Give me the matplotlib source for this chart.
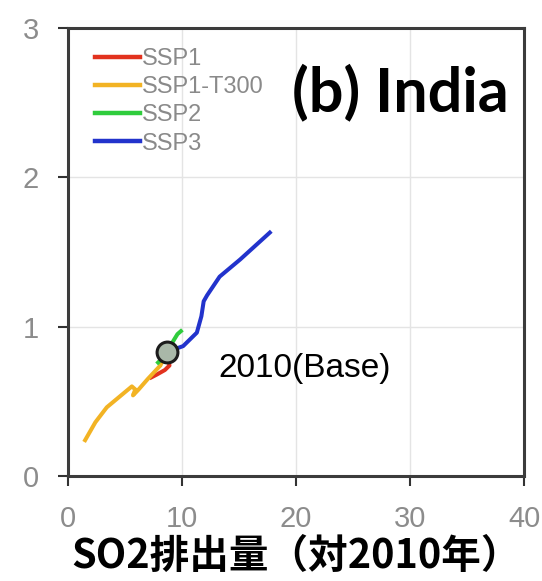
import matplotlib
matplotlib.use("Agg")
import matplotlib.pyplot as plt

# ------------------------------------------------------------------------------
# Trajectories (x: SO2 emission, y: vertical value)
# ------------------------------------------------------------------------------
ssp1_x = [8.66, 8.9, 8.5, 7.8, 7.3]
ssp1_y = [0.83, 0.74, 0.71, 0.68, 0.66]

t300_x = [8.66, 8.1, 7.0, 6.2, 5.7, 5.9, 5.6, 4.5, 3.4, 2.4, 1.5]
t300_y = [0.83, 0.74, 0.65, 0.58, 0.54, 0.58, 0.60, 0.53, 0.46, 0.36, 0.24]

ssp2_x = [7.9, 8.3, 8.66, 9.2, 9.6, 9.9]
ssp2_y = [0.76, 0.79, 0.83, 0.90, 0.95, 0.97]

ssp3_x = [8.66, 10.1, 11.3, 11.7, 11.9, 12.2, 13.3, 15.1, 17.7]
ssp3_y = [0.83, 0.87, 0.96, 1.07, 1.17, 1.21, 1.335, 1.45, 1.63]

base_x = 8.66
base_y = 0.83

x_ticks = [0, 10, 20, 30, 40]
y_ticks = [0, 1, 2, 3]

fig = plt.figure(figsize=(5.42, 5.81), dpi=100)
ax = fig.add_axes([0.1255, 0.1807, 0.8413, 0.7711])

lw = 2.9
ax.plot(ssp1_x, ssp1_y, color="#e2321e", lw=lw, label="SSP1", zorder=3)
ax.plot(t300_x, t300_y, color="#f2b324", lw=lw, label="SSP1-T300", zorder=3)
ax.plot(ssp2_x, ssp2_y, color="#2fcc3c", lw=lw, label="SSP2", zorder=3)
ax.plot(ssp3_x, ssp3_y, color="#2233cc", lw=lw, label="SSP3", zorder=4)

# 2010 base point
ax.plot([base_x], [base_y], marker="o", ms=15, mfc="#a9b8a8", mec="#1c1c1c",
        mew=2.2, zorder=5)
ax.text(13.2, 0.66, "2010(Base)", fontsize=24, family="Liberation Sans",
        ha="left", va="baseline", color="black")

ax.text(0.967, 0.815, "(b) India", transform=ax.transAxes, fontsize=44,
        fontweight="bold", family="Lato", ha="right", va="baseline")

ax.set_xlim(0, 40)
ax.set_ylim(0, 3)
ax.set_xticks(x_ticks)
ax.set_yticks(y_ticks)
ax.tick_params(axis="both", direction="out", length=7, width=1.5,
               colors="#333333", labelcolor="#8c8c8c", labelsize=21, pad=14)
for lab in ax.get_xticklabels() + ax.get_yticklabels():
    lab.set_family("Liberation Sans")
ax.grid(True, color="#e4e4e4", lw=1.0)
ax.set_axisbelow(True)
for sp in ax.spines.values():
    sp.set_linewidth(2.2)
    sp.set_color("#3c3c3c")

ax.set_xlabel("SO2排出量（対2010年）", fontsize=28.5, fontweight="bold",
              family=["Noto Sans CJK JP", "DejaVu Sans"], labelpad=2)

leg = ax.legend(loc="upper left", bbox_to_anchor=(0.059, 0.955), frameon=False,
                borderpad=0, borderaxespad=0, handlelength=1.9,
                handletextpad=0.08, labelspacing=0.26,
                prop={"family": "Liberation Sans", "size": 17})
for t in leg.get_texts():
    t.set_color("#8a8a8a")
for h in leg.get_lines():
    h.set_linewidth(3.2)

fig.savefig("out.png", dpi=100)
